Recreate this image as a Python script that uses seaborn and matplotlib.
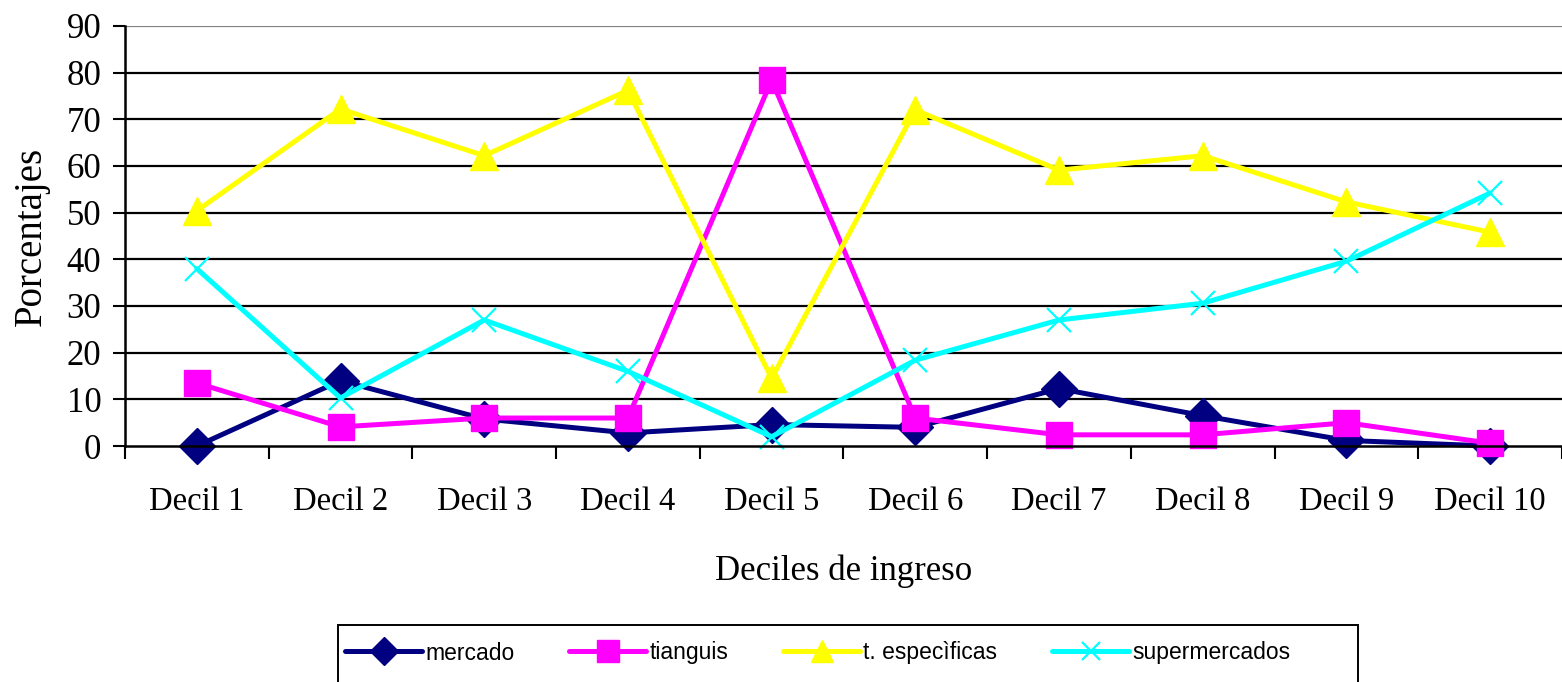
import numpy as np
import pandas as pd
import matplotlib
matplotlib.use('Agg')
import matplotlib.pyplot as plt
from matplotlib.patches import Rectangle
import seaborn as sns

# ==========================================
# DATOS
# ==========================================
deciles = ['Decil 1', 'Decil 2', 'Decil 3', 'Decil 4', 'Decil 5',
           'Decil 6', 'Decil 7', 'Decil 8', 'Decil 9', 'Decil 10']
mercado = [0.0, 14.0, 5.8, 2.8, 4.6, 4.0, 12.3, 6.5, 1.2, 0.0]
tianguis = [13.5, 4.1, 6.0, 6.0, 78.4, 6.0, 2.4, 2.4, 5.0, 0.6]
t_especificas = [50.4, 72.2, 62.2, 76.2, 14.5, 72.0, 59.1, 62.2, 52.3, 45.8]
supermercados = [38.0, 10.3, 27.0, 16.0, 2.0, 18.4, 27.0, 30.6, 39.6, 54.2]

series = ['mercado', 'tianguis', 't. especìficas', 'supermercados']
valores = [mercado, tianguis, t_especificas, supermercados]
colores = ['#000080', '#FF00FF', '#FFFF00', '#00FFFF']
marcadores = ['D', 's', '^', 'x']
tamanos = [18, 19, 20, 17]
bordes = [1, 1, 1, 1.6]

# ==========================================
# GRAFICO
# ==========================================
sns.set_style('white')
plt.rcParams['font.family'] = ['Liberation Serif', 'DejaVu Serif']
for k in ['text.color', 'axes.labelcolor', 'xtick.color', 'ytick.color']:
    plt.rcParams[k] = 'black'

fig = plt.figure(figsize=(15.62, 6.82), dpi=100)
ax = fig.add_axes([0.080, 0.346, 0.920, 0.616])

pos = np.arange(len(deciles))
for nombre, vals, c, m, ms, mew in zip(series, valores, colores, marcadores, tamanos, bordes):
    df = pd.DataFrame({'x': pos, 'y': vals})
    sns.lineplot(data=df, x='x', y='y', ax=ax, color=c, lw=3.6, marker=m,
                 markersize=ms, markeredgecolor=c, markerfacecolor=c,
                 markeredgewidth=mew, label=nombre, legend=False, clip_on=False)

ax.set_xlim(-0.5, len(deciles) - 0.5)
ax.set_ylim(0, 90)
ax.set_yticks(np.arange(0, 91, 10))
for v in range(10, 81, 10):
    ax.axhline(v, color='black', lw=1.6, zorder=0)
ax.axhline(90, color='#808080', lw=1.6, zorder=0)

ax.set_xticks(pos)
ax.set_xticklabels(deciles)
ax.set_xticks(np.arange(-0.5, len(deciles), 1), minor=True)
ax.tick_params(axis='x', which='major', length=0, pad=29, labelsize=23.5)
ax.tick_params(axis='x', which='minor', length=9, width=1.5, color='black', direction='out', bottom=True)
ax.tick_params(axis='y', length=9, width=1.5, color='black', direction='out', left=True, pad=8, labelsize=25)

for s in ['top', 'right']:
    ax.spines[s].set_visible(False)
for s in ['left', 'bottom']:
    ax.spines[s].set_color('black')
    ax.spines[s].set_linewidth(1.8)

ax.set_xlabel('Deciles de ingreso', fontsize=25, labelpad=27)
ax.set_ylabel('Porcentajes', fontsize=28, labelpad=12)

# leyenda abajo, marco dibujado aparte (sale cortado por el borde inferior)
handles, labels = ax.get_legend_handles_labels()
leg = fig.legend(handles, labels, loc='center left', bbox_to_anchor=(345 / 1562, 1 - 653 / 682),
                 ncol=4, frameon=False,
                 prop={'family': 'Liberation Sans', 'size': 16.5},
                 handlelength=3.36, handletextpad=0.13, columnspacing=2.4,
                 borderpad=0, borderaxespad=0, markerscale=0.8)
for t in leg.get_texts():
    t.set_color('black')
fig.patches.append(Rectangle((338 / 1562, -0.1), (1358 - 338) / 1562, (682 - 625) / 682 + 0.1,
                             transform=fig.transFigure, fill=False, edgecolor='black', lw=1.4))

fig.savefig('out.png', dpi=100)
